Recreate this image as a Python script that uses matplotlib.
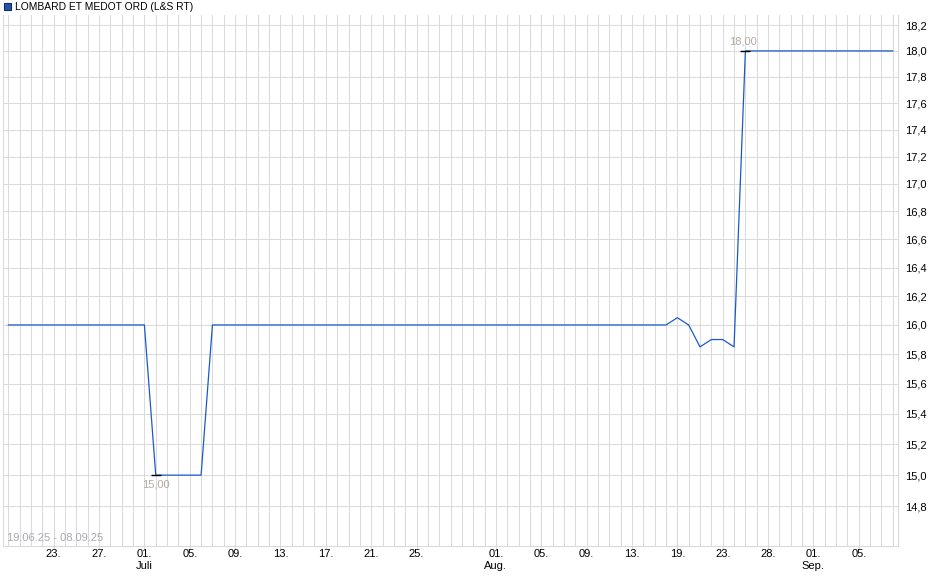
import matplotlib
matplotlib.use("Agg")
import matplotlib.pyplot as plt
from matplotlib.ticker import FixedLocator, NullLocator, FixedFormatter
from matplotlib.patches import Rectangle

plt.rcParams['font.family'] = ['Liberation Sans', 'DejaVu Sans']

# ---- data ----
series_name = "LOMBARD ET MEDOT ORD (L&S RT)"
date_range_label = "19.06.25 - 08.09.25"

dates = (
    ["19.06", "20.06", "21.06", "22.06", "23.06", "24.06", "25.06", "26.06", "27.06", "28.06", "29.06", "30.06"]
    + ["01.07", "02.07", "03.07", "04.07", "05.07", "06.07", "07.07", "08.07", "09.07", "10.07",
       "11.07", "12.07", "13.07", "14.07", "15.07", "16.07", "17.07", "18.07", "19.07", "20.07",
       "21.07", "22.07", "23.07", "24.07", "25.07", "26.07", "27.07", "28.07", "29.07", "30.07", "31.07"]
    + ["01.08", "02.08", "03.08", "04.08", "05.08", "06.08", "07.08", "08.08", "09.08", "10.08",
       "11.08", "12.08", "13.08", "14.08", "17.08", "18.08", "19.08", "20.08", "21.08", "22.08",
       "23.08", "25.08", "26.08", "27.08", "28.08", "29.08", "30.08", "31.08"]
    + ["01.09", "02.09", "03.09", "04.09", "05.09", "06.09", "07.09", "08.09"]
)

prices = [
    16.0, 16.0, 16.0, 16.0, 16.0, 16.0, 16.0, 16.0, 16.0, 16.0, 16.0, 16.0,
    16.0, 15.0, 15.0, 15.0, 15.0, 15.0, 16.0, 16.0, 16.0, 16.0, 16.0, 16.0,
    16.0, 16.0, 16.0, 16.0, 16.0, 16.0, 16.0, 16.0, 16.0, 16.0, 16.0, 16.0,
    16.0, 16.0, 16.0, 16.0, 16.0, 16.0, 16.0,
    16.0, 16.0, 16.0, 16.0, 16.0, 16.0, 16.0, 16.0, 16.0, 16.0, 16.0, 16.0,
    16.0, 16.0, 16.0, 16.0, 16.05, 16.0, 15.85, 15.9, 15.9, 15.85, 18.0, 18.0,
    18.0, 18.0, 18.0, 18.0,
    18.0, 18.0, 18.0, 18.0, 18.0, 18.0, 18.0, 18.0,
]

tick_dates = ["23.06", "27.06", "01.07", "05.07", "09.07", "13.07", "17.07", "21.07", "25.07",
              "01.08", "05.08", "09.08", "13.08", "19.08", "23.08", "28.08", "01.09", "05.09"]
month_names = {"07": "Juli", "08": "Aug.", "09": "Sep."}

y_ticks = [14.8, 15.0, 15.2, 15.4, 15.6, 15.8, 16.0, 16.2, 16.4, 16.6, 16.8,
           17.0, 17.2, 17.4, 17.6, 17.8, 18.0, 18.2]

# ---- figure ----
W, H = 940, 579
fig = plt.figure(figsize=(W / 100, H / 100), dpi=100)
ax = fig.add_axes([3 / W, (H - 546) / H, (898 - 3) / W, (546 - 15) / H])

x = list(range(len(prices)))
line_color = "#1a5ac8"
grid_color = "#dadada"

ax.set_yscale("log")
ax.set_ylim(14.55, 18.28)
ax.set_xlim(-0.47, 78.46)

# grid
for xi in x:
    ax.axvline(xi, color=grid_color, lw=0.75, zorder=0)
for yt in y_ticks:
    ax.axhline(yt, color=grid_color, lw=0.75, zorder=0)

ax.plot(x, prices, color=line_color, lw=0.9, zorder=3)

# min / max markers
imax = prices.index(max(prices))
imin = prices.index(min(prices))
ax.plot([imax], [prices[imax]], marker="_", color="black", ms=7, mew=1.0, zorder=4)
ax.plot([imin], [prices[imin]], marker="_", color="black", ms=7, mew=1.0, zorder=4)
ann_color = "#b4aaa0"
ax.annotate(f"{prices[imax]:.2f}".replace(".", ","), (imax, prices[imax]),
            xytext=(-2, 3), textcoords="offset points", ha="center", va="bottom",
            fontsize=8, color=ann_color)
ax.annotate(f"{prices[imin]:.2f}".replace(".", ","), (imin, prices[imin]),
            xytext=(0, -3), textcoords="offset points", ha="center", va="top",
            fontsize=8, color=ann_color)

# date range label
ax.text(0.005, (546 - 538) / (546 - 15), date_range_label,
        transform=ax.transAxes, ha="left", va="center", fontsize=8, color="#a8a8b0")

# y axis on right
ax.yaxis.set_major_locator(FixedLocator(y_ticks))
ax.yaxis.set_major_formatter(FixedFormatter([f"{v:.1f}".replace(".", ",") for v in y_ticks]))
ax.yaxis.set_minor_locator(NullLocator())
ax.yaxis.tick_right()
ax.tick_params(axis="y", length=0, pad=5, labelsize=8, labelcolor="black")

# x ticks
tick_idx = [dates.index(d) for d in tick_dates]
tick_lbl = []
for d in tick_dates:
    day, mon = d.split(".")
    if day == "01":
        tick_lbl.append(f"{day}.\n{month_names[mon]}")
    else:
        tick_lbl.append(f"{day}.")
ax.set_xticks(tick_idx)
ax.set_xticklabels(tick_lbl, fontsize=8, linespacing=1.2, va="top")
ax.xaxis.set_minor_locator(NullLocator())
ax.tick_params(axis="x", length=2, color=grid_color, pad=0.5)

ax.spines["top"].set_visible(False)
for s in ["left", "right", "bottom"]:
    ax.spines[s].set_color(grid_color)
    ax.spines[s].set_linewidth(0.75)

# legend
fig.patches.append(Rectangle((4 / W, (H - 10) / H), 7 / W, 7 / H, transform=fig.transFigure,
                             facecolor="#1f55b5", edgecolor="#1a2a50", lw=0.8))
fig.text(15 / W, (H - 6.5) / H, series_name, ha="left", va="center", fontsize=7.4, color="black")

fig.savefig("out.png", dpi=100)
